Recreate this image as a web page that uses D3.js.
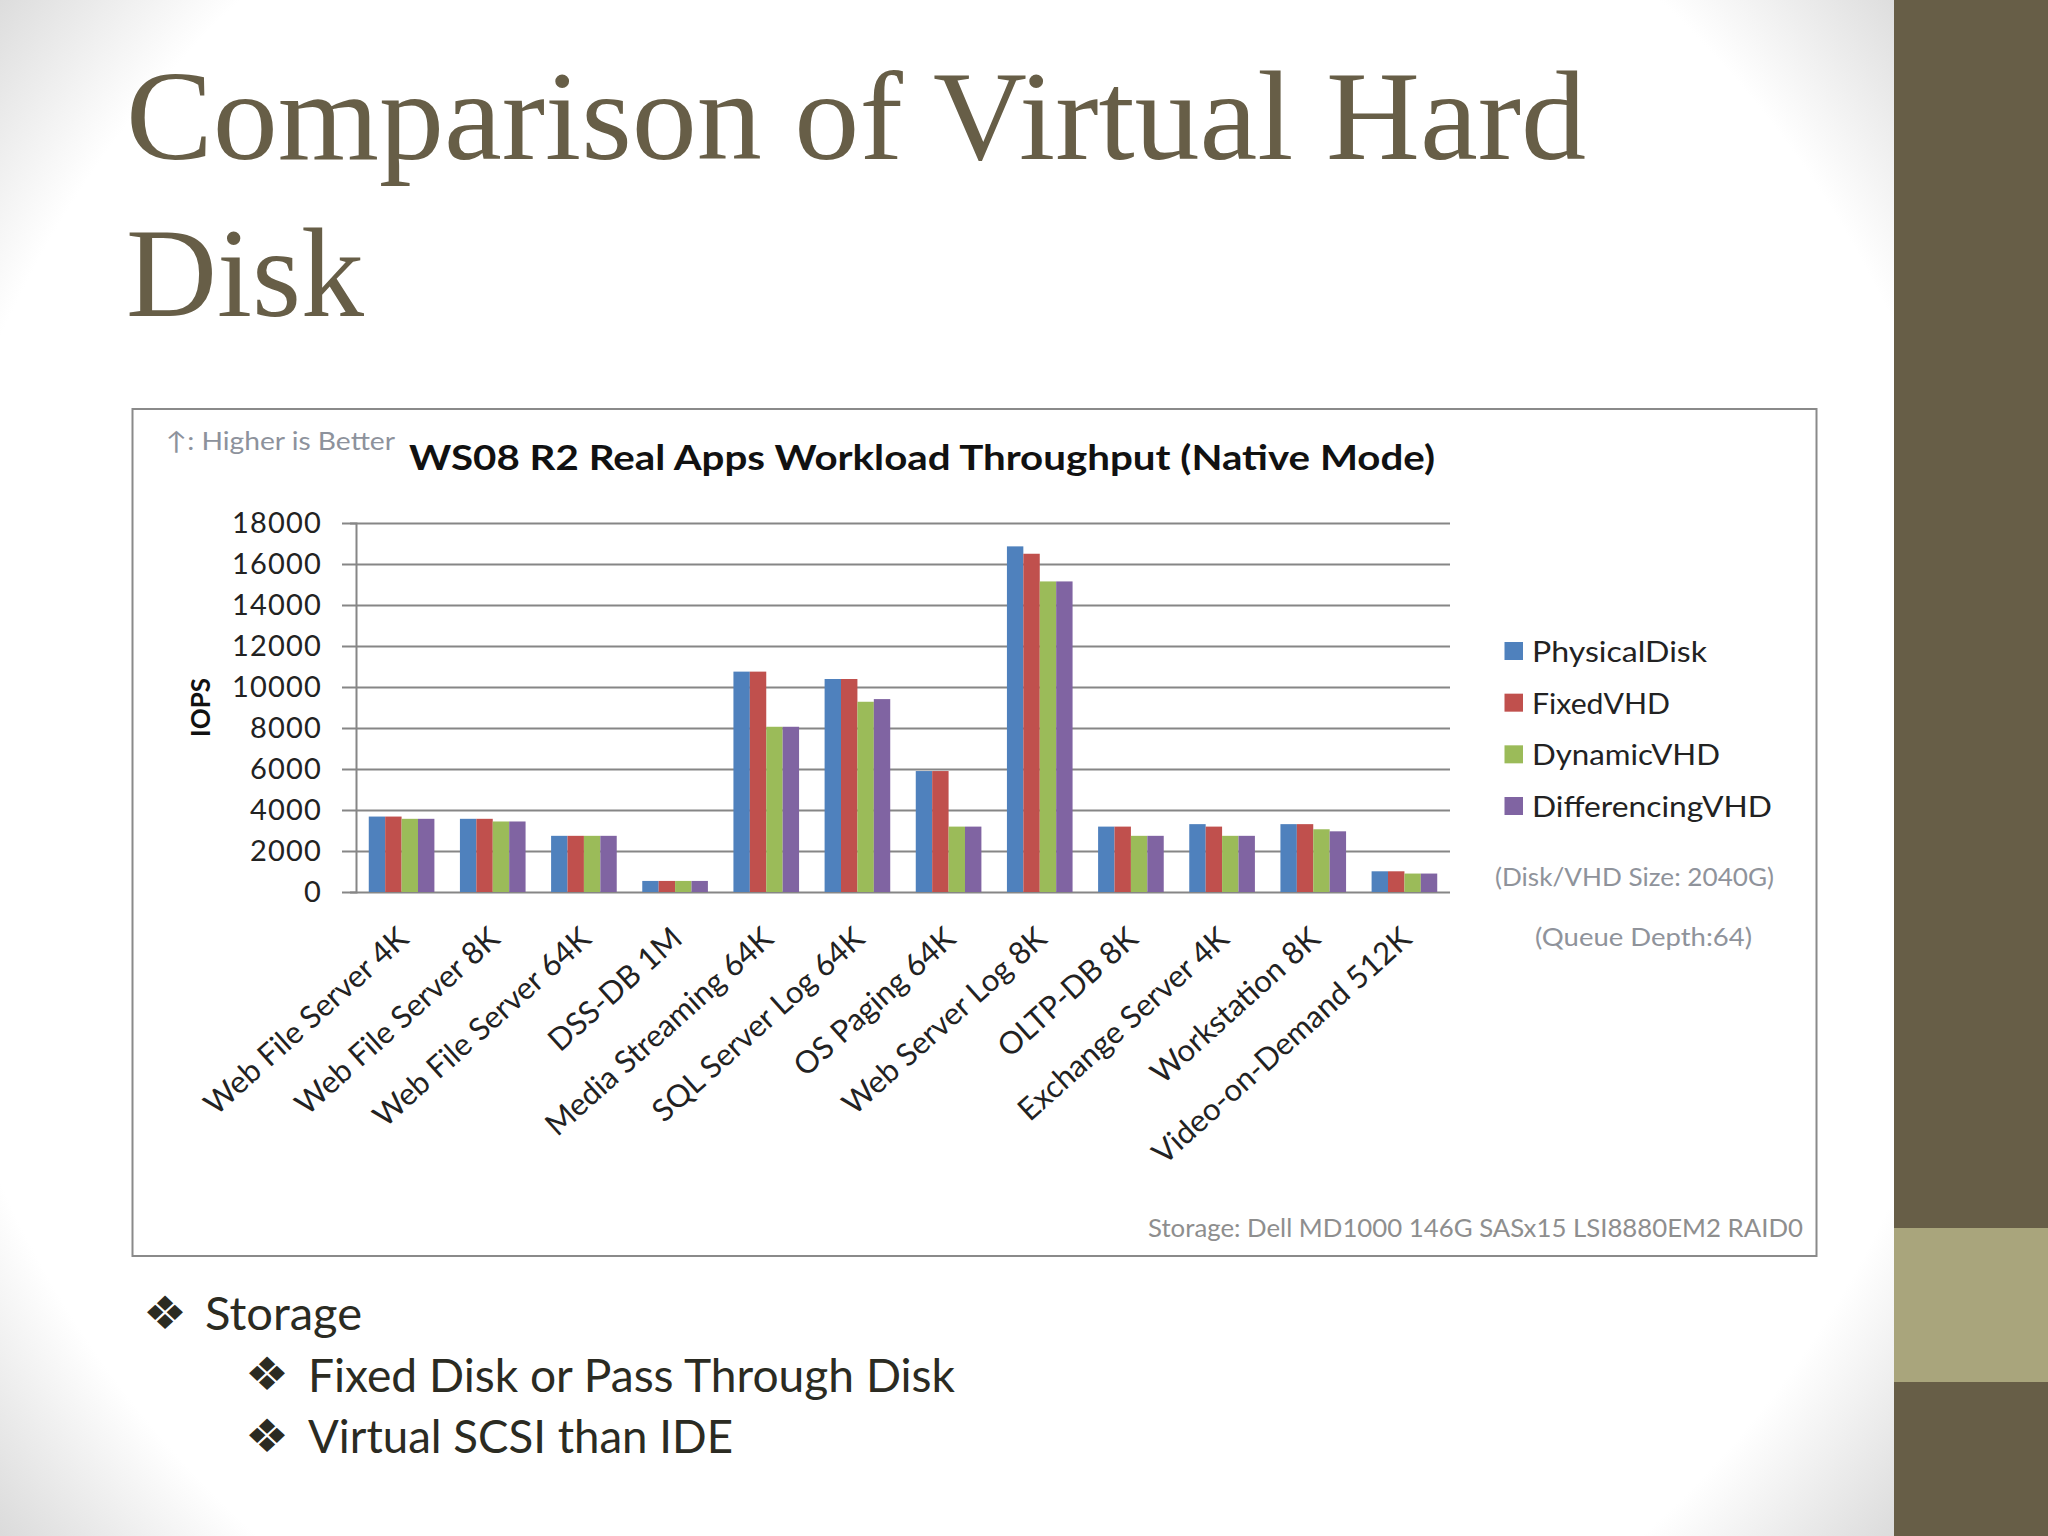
<!DOCTYPE html>
<html>
<head>
<meta charset="utf-8">
<script src="https://cdn.jsdelivr.net/npm/d3@7"></script>
<style>
body { margin: 0; background: #fff; }
text { font-family: Lato, sans-serif; }
</style>
</head>
<body>
<script>
var categories = ["Web File Server 4K", "Web File Server 8K", "Web File Server 64K", "DSS-DB 1M",
    "Media Streaming 64K", "SQL Server Log 64K", "OS Paging 64K", "Web Server Log 8K",
    "OLTP-DB 8K", "Exchange Server 4K", "Workstation 8K", "Video-on-Demand 512K"];
var seriesNames = ["PhysicalDisk", "FixedVHD", "DynamicVHD", "DifferencingVHD"];
var physicalDisk = [3680, 3570, 2740, 540, 10750, 10390, 5900, 16860, 3190, 3310, 3310, 1010];
var fixedVHD = [3680, 3570, 2740, 540, 10750, 10390, 5900, 16500, 3190, 3190, 3310, 1010];
var dynamicVHD = [3570, 3440, 2740, 540, 8060, 9280, 3190, 15150, 2740, 2740, 3060, 900];
var differencingVHD = [3570, 3440, 2740, 540, 8060, 9410, 3190, 15150, 2740, 2740, 2960, 900];
var seriesValues = [physicalDisk, fixedVHD, dynamicVHD, differencingVHD];
var yTicks = [0, 2000, 4000, 6000, 8000, 10000, 12000, 14000, 16000, 18000];
var seriesColors = ["#4f81bd", "#c0504d", "#9bbb59", "#8064a2"];

var margin = {top: 523, left: 356}
  , width = 1094
  , height = 369;

var svg = d3.select("body").append("svg")
    .attr("width", 2048)
    .attr("height", 1536);

// slide background
var grad = svg.append("defs").append("radialGradient")
    .attr("id", "bg")
    .attr("gradientUnits", "userSpaceOnUse")
    .attr("cx", 950).attr("cy", 760).attr("r", 1230);
grad.append("stop").attr("offset", "0.845").attr("stop-color", "#ffffff");
grad.append("stop").attr("offset", "1").attr("stop-color", "#dadada");

svg.append("rect").attr("width", 1894).attr("height", 1536).attr("fill", "url(#bg)");
svg.append("rect").attr("x", 1894).attr("width", 154).attr("height", 1536).attr("fill", "#675e47");
svg.append("rect").attr("x", 1894).attr("y", 1228).attr("width", 154).attr("height", 154).attr("fill", "#a9a57c");

function addText(str, x, y, size, fill, fit, weight, family) {
    var t = svg.append("text")
        .attr("x", x)
        .attr("y", y)
        .attr("font-size", size)
        .attr("fill", fill)
        .text(str);
    if (fit) t.attr("textLength", fit).attr("lengthAdjust", "spacingAndGlyphs");
    if (weight) t.attr("font-weight", weight);
    if (family) t.style("font-family", family);
    return t;
}

addText("Comparison of Virtual Hard", 126, 159, 128, "#675e47", 1460, null, "'Liberation Serif', serif");
addText("Disk", 126, 316, 128, "#675e47", 238, null, "'Liberation Serif', serif");

// picture of the chart
svg.append("rect").attr("x", 120).attr("y", 396).attr("width", 1710).attr("height", 874).attr("fill", "#fff");
svg.append("rect").attr("x", 132.5).attr("y", 409).attr("width", 1684).attr("height", 847)
    .attr("fill", "#fff").attr("stroke", "#8a8a8a").attr("stroke-width", 2);

addText("↑: Higher is Better", 166, 450, 25, "#8d929c", 229);
addText("WS08 R2 Real Apps Workload Throughput (Native Mode)", 409, 470, 34, "#111", 1026, "bold");

var g = svg.append("g").attr("transform", "translate(" + margin.left + "," + margin.top + ")");

var xScale = d3.scaleBand().domain(categories).range([0, width]).paddingInner(0.28).paddingOuter(0.14);
var x1Scale = d3.scaleBand().domain(seriesNames).range([0, xScale.bandwidth()]);
var yScale = d3.scaleLinear().domain([0, 18000]).range([height, 0]);

var yAxis = g.append("g")
    .attr("class", "y axis")
    .call(d3.axisLeft(yScale).tickValues(yTicks).tickFormat(d3.format("d")));
yAxis.select(".domain").attr("stroke", "#868686").attr("stroke-width", 2);
yAxis.selectAll("line").attr("x1", -14).attr("x2", width).attr("stroke", "#868686").attr("stroke-width", 2);
yAxis.selectAll("text")
    .attr("x", -34)
    .attr("font-size", 29)
    .attr("fill", "#222")
    .style("font-family", "Lato")
    .style("letter-spacing", "1.2px");

var groups = g.selectAll(".cat")
    .data(categories)
    .enter().append("g")
    .attr("class", "cat")
    .attr("transform", function(d) { return "translate(" + xScale(d) + ",0)"; });

seriesNames.forEach(function(name, s) {
    groups.append("rect")
        .attr("x", x1Scale(name))
        .attr("width", x1Scale.bandwidth())
        .attr("y", function(d, i) { return yScale(seriesValues[s][i]); })
        .attr("height", function(d, i) { return height - yScale(seriesValues[s][i]); })
        .attr("fill", seriesColors[s]);
});

var xAxis = g.append("g")
    .attr("class", "x axis")
    .attr("transform", "translate(0," + height + ")")
    .call(d3.axisBottom(xScale).tickSize(0));
xAxis.select(".domain").remove();
xAxis.selectAll("text")
    .attr("font-size", 31)
    .attr("fill", "#222")
    .style("font-family", "Lato")
    .attr("text-anchor", "end")
    .attr("dy", 0)
    .attr("transform", "translate(7,47) rotate(-42)");

g.append("text")
    .attr("transform", "translate(-146," + (height / 2) + ") rotate(-90)")
    .attr("text-anchor", "middle")
    .attr("font-size", 26)
    .attr("font-weight", "bold")
    .attr("fill", "#111")
    .text("IOPS");

// legend
var legendY = d3.scalePoint().domain(seriesNames).range([661, 816]);
seriesNames.forEach(function(name, s) {
    svg.append("rect")
        .attr("x", 1504.5)
        .attr("y", legendY(name) - 19)
        .attr("width", 18.5)
        .attr("height", 18)
        .attr("fill", seriesColors[s]);
});
var legendWidths = [175, 138, 188, 240];
seriesNames.forEach(function(name, s) {
    addText(name, 1532, legendY(name) + 1, 28, "#222", legendWidths[s]);
});

addText("(Disk/VHD Size: 2040G)", 1495, 886, 25, "#8f939b", 279);
addText("(Queue Depth:64)", 1535, 946, 25, "#8f939b", 217);
addText("Storage: Dell MD1000 146G SASx15 LSI8880EM2 RAID0", 1148, 1237, 25, "#8e8e8e", 655);

// bullets under the chart
var bulletText = "#2b2b22";
addText("❖", 143, 1329, 46, bulletText, 44, null, "'DejaVu Sans'");
addText("Storage", 205, 1330, 46, bulletText, 157);
addText("❖", 245, 1390, 46, bulletText, 44, null, "'DejaVu Sans'");
addText("Fixed Disk or Pass Through Disk", 308, 1392, 46, bulletText, 647);
addText("❖", 245, 1452, 46, bulletText, 44, null, "'DejaVu Sans'");
addText("Virtual SCSI than IDE", 308, 1453, 46, bulletText, 425);
</script>
</body>
</html>
